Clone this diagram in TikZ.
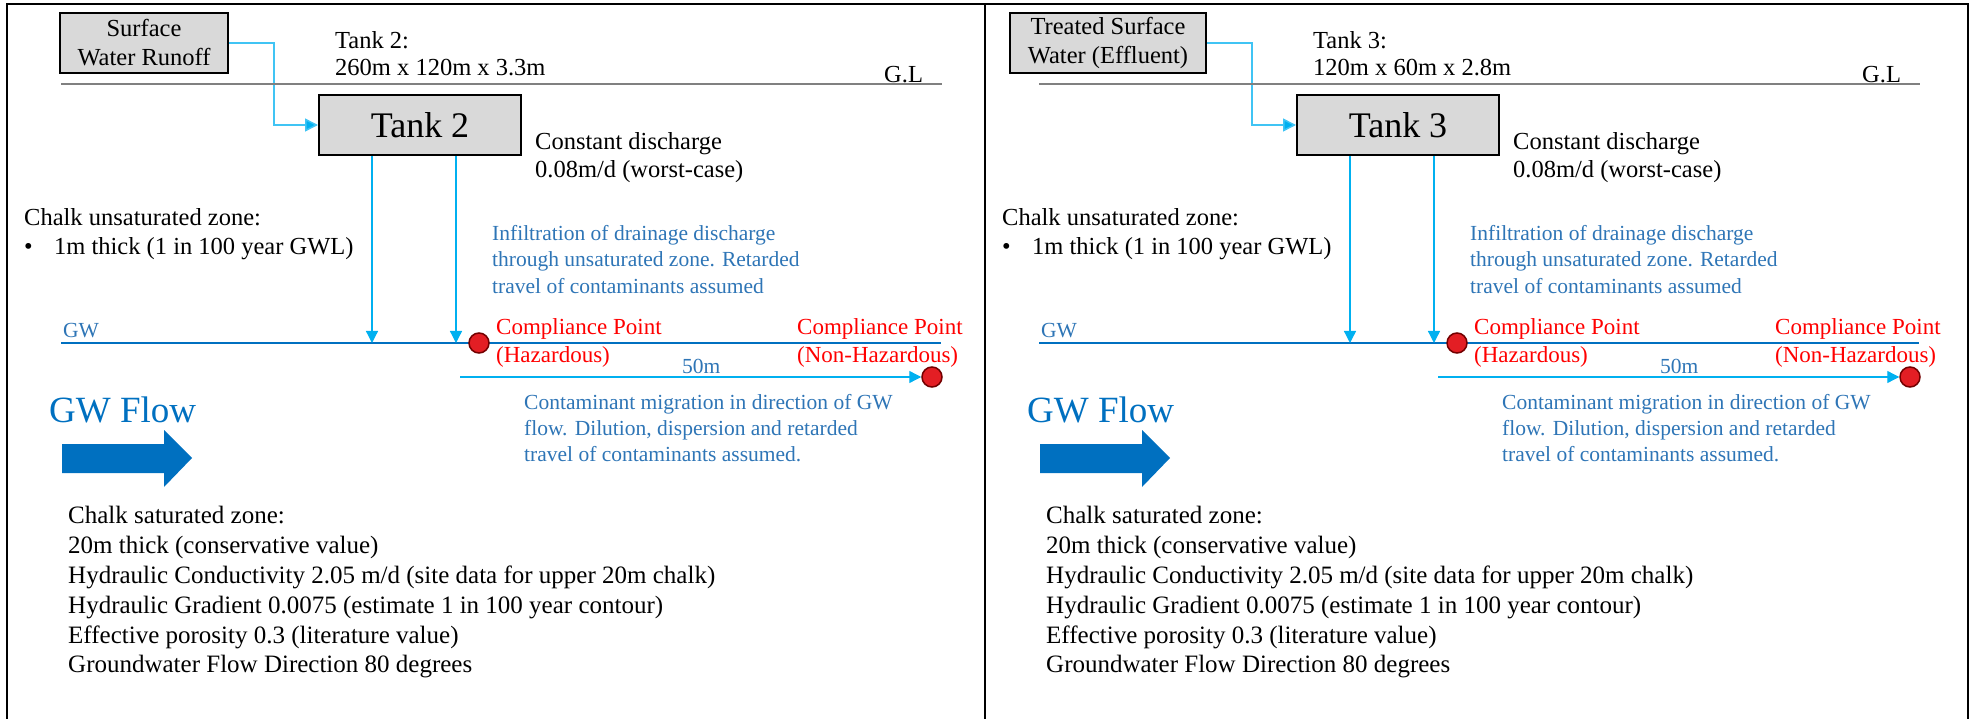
\documentclass[tikz,border=0pt]{standalone}
\usepackage{fontspec}
\setmainfont{Liberation Serif}
\usetikzlibrary{arrows.meta}
\definecolor{gwblue}{HTML}{0070C0}
\definecolor{txtblue}{HTML}{2E75B6}
\definecolor{dropblue}{HTML}{00B0F0}
\definecolor{cpred}{HTML}{E31E24}
\definecolor{boxgrey}{HTML}{D9D9D9}

\begin{document}
\begin{tikzpicture}[x=1pt, y=-1pt,
		txt/.style={anchor=west, inner sep=0pt, align=left, font=\fontsize{24.5}{#1}\selectfont},
		txt/.default=28,
		bluetxt/.style={txt, text=txtblue, font=\fontsize{21.5}{#1}\selectfont},
		bluetxt/.default=26,
		redtxt/.style={txt, text=red, font=\fontsize{23}{#1}\selectfont},
		redtxt/.default=28,
		srcbox/.style={draw, line width=2pt, fill=boxgrey, minimum height=60pt, align=center, inner sep=0pt, font=\fontsize{24.5}{29}\selectfont},
		tankbox/.style={draw, line width=2pt, fill=boxgrey, minimum width=202pt, minimum height=60pt, font=\fontsize{36}{40}\selectfont},
		feed/.style={draw=dropblue!75, line width=1.5pt, -{Triangle[length=13pt,width=13pt,fill=dropblue]}},
		drop/.style={draw=dropblue, line width=1.3pt, -{Triangle[length=12pt,width=12pt]}},
		gwline/.style={draw=gwblue, line width=2.5pt},
		glline/.style={draw=gray, line width=2pt},
		cp/.style={circle, draw=red!45!black, line width=1.5pt, fill=cpred, minimum size=20pt, inner sep=0pt}]
		\useasboundingbox (0,0) rectangle (1971,719);
		\draw[line width=2.5pt] (7,4) rectangle (985,730);
		\draw[line width=2.5pt] (985,4) rectangle (1968,730);
		\foreach \dx/\pre/\src/\sw/\tk/\dims in {0/a/{Surface\\Water Runoff}/168/2/{260m x 120m x 3.3m},
				978/b/{Treated Surface\\Water (Effluent)}/196/3/{120m x 60m x 2.8m}} {
		\begin{scope}[xshift=\dx, name prefix=\pre-]
		\node[srcbox, minimum width=\sw, anchor=east] (S) at (229,43) {\src};
		\node[tankbox] (T) at (420,125) {Tank \tk};
		\draw[feed] (S.east) -- ++(45,0) |- (T.west);
		\node[txt=27] (D) at (335,53.5) {Tank \tk:\\\dims};
		\coordinate (L1) at (61,84);
		\coordinate (L2) at (942,84);
		\draw[glline] (L1) -- (L2);
		\node[txt] (GL) at (884,75) {G.L};
		\node[txt] (C) at (535,158) {Constant discharge\\0.08m/d (worst-case)};
		\node[txt=29] (U) at (24,234.5) {Chalk unsaturated zone:\\\makebox[30pt][l]{\textbullet}1m thick (1 in 100 year GWL)};
		\node[bluetxt=26.5] (I) at (492,259.5) {Infiltration of drainage discharge\\through unsaturated zone. Retarded\\travel of contaminants assumed};
		% ground water level
		\coordinate (W1) at (61,343);
		\coordinate (W2) at (941,343);
		\draw[gwline] (W1) -- (W2);
		\node[bluetxt] (GW) at (63,331) {GW};
		\coordinate (G1) at (372,343);
		\coordinate (G2) at (456,343);
		\draw[drop] (T.south -| G1) -- (G1);
		\draw[drop] (T.south -| G2) -- (G2);
		\node[cp] (P1) at (479,343) {};
		\node[redtxt] (H1) at (496,343) {Compliance Point\\(Hazardous)};
		\node[redtxt] (H2) at (797,343) {Compliance Point\\(Non-Hazardous)};
		\coordinate (M) at (460,377);
		\node[cp] (P2) at (932,377) {};
		\draw[drop] (M) -- (P2);
		\node[bluetxt] (Q) at (682,366) {50m};
		\node[bluetxt=26] (K) at (524,428) {Contaminant migration in direction of GW\\flow. Dilution, dispersion and retarded\\travel of contaminants assumed.};
		\node[txt, text=gwblue, font=\fontsize{37}{40}\selectfont] (F) at (49,410) {GW Flow};
		\fill[gwblue] (62,444) -- (164,444) -- (164,430) -- (192,458) -- (164,487) -- (164,473) -- (62,473) -- cycle;
		%\node[txt] (Z) at (68,518) {Chalk saturated zone:};
		\node[txt=29.8, font=\fontsize{25}{29.8}\selectfont] (Z) at (68,592.5) {Chalk saturated zone:\\20m thick (conservative value)\\Hydraulic Conductivity 2.05 m/d (site data for upper 20m chalk)\\Hydraulic Gradient 0.0075 (estimate 1 in 100 year contour)\\Effective porosity 0.3 (literature value)\\Groundwater Flow Direction 80 degrees};
		\end{scope}
		}
	\end{tikzpicture}
\end{document}
